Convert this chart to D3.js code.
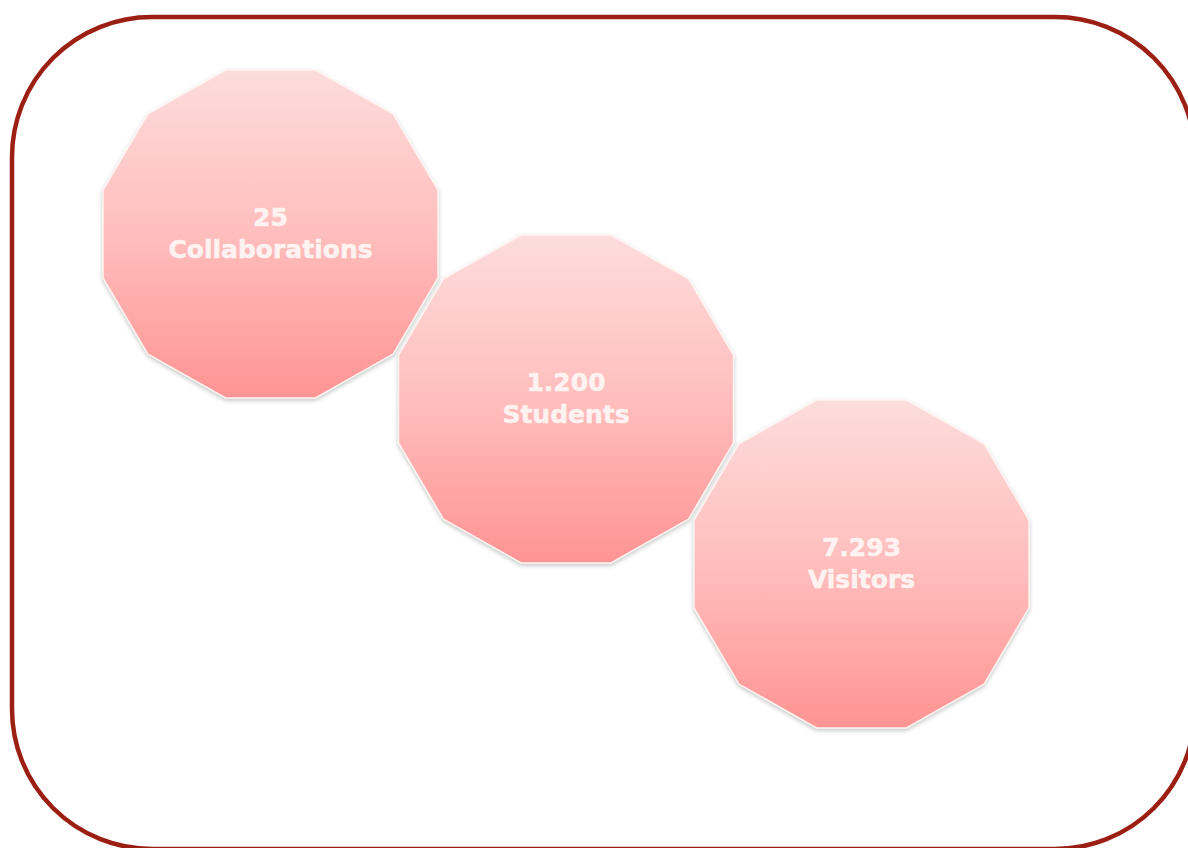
<!DOCTYPE html>
<html>
<head>
<meta charset="utf-8">
<script src="https://cdn.jsdelivr.net/npm/d3@7"></script>
<style>
  html, body { margin: 0; padding: 0; background: #ffffff; }
  svg { display: block; }
</style>
</head>
<body>
<svg id="chart" width="1188" height="848"></svg>
<script>
// Data
const categories = ["Collaborations", "Students", "Visitors"];
const values = ["25", "1.200", "7.293"];

const W = 1188, H = 848;
const svg = d3.select("#chart");

// Frame
svg.append("rect")
  .attr("x", 12).attr("y", 17)
  .attr("width", 1183).attr("height", 832)
  .attr("rx", 140).attr("ry", 140)
  .attr("fill", "none")
  .attr("stroke", "#9c1f14")
  .attr("stroke-width", 4.5);

const defs = svg.append("defs");
const grad = defs.append("linearGradient")
  .attr("id", "fillGrad").attr("x1", 0).attr("y1", 0).attr("x2", 0).attr("y2", 1);
grad.append("stop").attr("offset", "0%").attr("stop-color", "#fddcdc");
grad.append("stop").attr("offset", "50%").attr("stop-color", "#ffbebd");
grad.append("stop").attr("offset", "100%").attr("stop-color", "#ff9493");

const filt = defs.append("filter").attr("id", "shadow")
  .attr("x", "-10%").attr("y", "-10%").attr("width", "120%").attr("height", "120%");
filt.append("feDropShadow")
  .attr("dx", 0).attr("dy", 2).attr("stdDeviation", 2)
  .attr("flood-color", "#7a8a80").attr("flood-opacity", 0.45);

// Scales for placement
const x = d3.scalePoint().domain(categories).range([270.5, 861.5]);
const y = d3.scalePoint().domain(categories).range([234, 564]);

const ax = 167.5, ay = 164; // apothems
const Rx = ax / Math.cos(Math.PI / 12), Ry = ay / Math.cos(Math.PI / 12);
const angles = d3.range(12).map(i => (15 + 30 * i) * Math.PI / 180);
const line = d3.line().curve(d3.curveLinearClosed);

const g = svg.selectAll("g.node")
  .data(categories.map((c, i) => ({ label: c, value: values[i] })))
  .join("g")
  .attr("class", "node")
  .attr("transform", d => `translate(${x(d.label)},${y(d.label)})`);

g.append("path")
  .attr("d", line(angles.map(a => [Rx * Math.cos(a), Ry * Math.sin(a)])))
  .attr("fill", "url(#fillGrad)")
  .attr("stroke", "#fff4f2")
  .attr("stroke-width", 1.5)
  .attr("filter", "url(#shadow)");

const t = g.append("text")
  .attr("text-anchor", "middle")
  .attr("font-family", "'DejaVu Sans', Verdana, sans-serif")
  .attr("font-weight", "bold")
  .attr("font-size", 25)
  .attr("fill", "#fff3f2")
  .attr("stroke", "#fff3f2")
  .attr("stroke-width", 0.5);
t.append("tspan").attr("x", 0).attr("y", -8).text(d => d.value);
t.append("tspan").attr("x", 0).attr("y", 24).text(d => d.label);
</script>
</body>
</html>
